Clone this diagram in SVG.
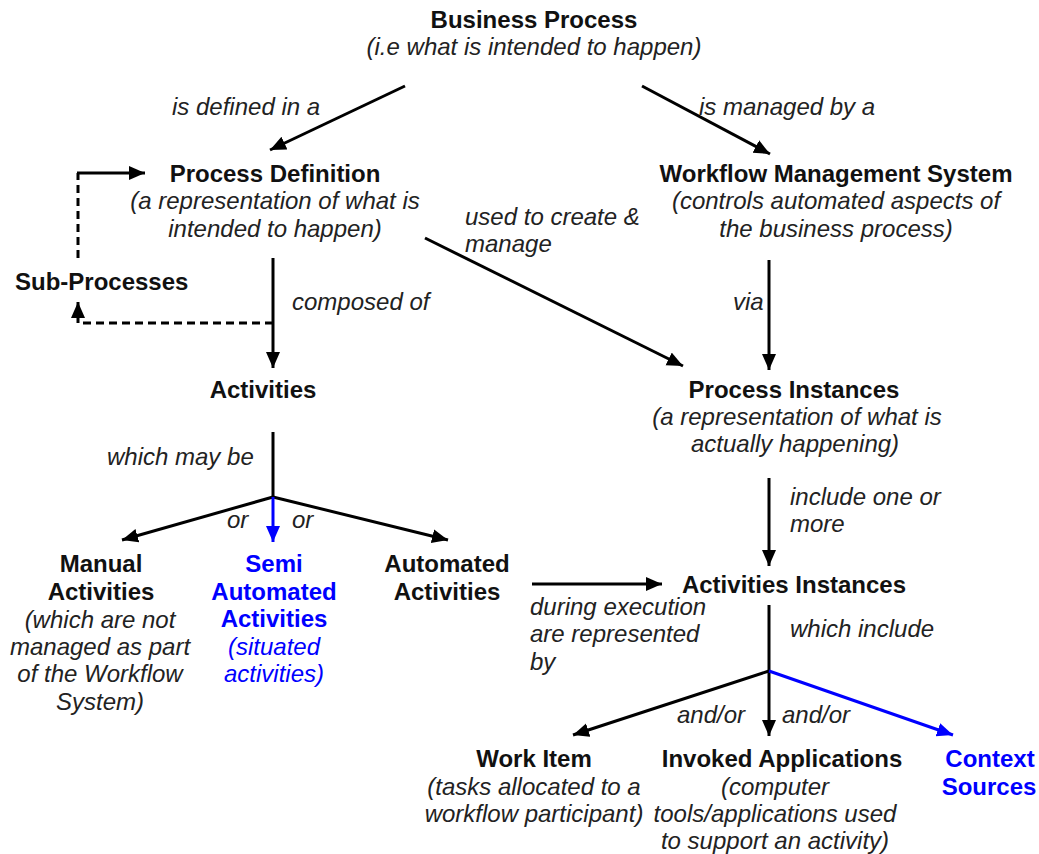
<svg xmlns="http://www.w3.org/2000/svg" width="1039" height="854" viewBox="0 0 1039 854">
<defs>
<style>
text{font-family:"Liberation Sans",Arial,sans-serif;font-size:24px;fill:#111}
.b{font-weight:bold}
.i{font-style:italic;fill:#222}
.c{text-anchor:middle}
.blue{fill:#0000ff}
.ln{stroke:#000;stroke-width:3;fill:none}
.bl{stroke:#0000ff;stroke-width:3;fill:none}
.d{stroke-dasharray:8,5}
</style>
<marker id="ah" markerUnits="userSpaceOnUse" markerWidth="18" markerHeight="16" refX="16" refY="7" orient="auto"><path d="M0,0 L16,7 L0,14 z" fill="#000"/></marker>
<marker id="ahb" markerUnits="userSpaceOnUse" markerWidth="18" markerHeight="16" refX="16" refY="7" orient="auto"><path d="M0,0 L16,7 L0,14 z" fill="#0000ff"/></marker>
</defs>
<rect width="1039" height="854" fill="#fff"/>
<g id="connectors">
<line class="ln" x1="405" y1="86" x2="270" y2="150" marker-end="url(#ah)"/>
<line class="ln" x1="642" y1="86" x2="770" y2="154" marker-end="url(#ah)"/>
<line class="ln" x1="425" y1="238" x2="683" y2="366" marker-end="url(#ah)"/>
<line class="ln" x1="769" y1="260" x2="769" y2="370" marker-end="url(#ah)"/>
<line class="ln" x1="273" y1="258" x2="273" y2="368" marker-end="url(#ah)"/>
<path class="ln d" d="M273,323 H78 V313"/>
<line class="ln" x1="78" y1="316" x2="78" y2="302" marker-end="url(#ah)"/>
<path class="ln d" d="M78,258 V173"/>
<line class="ln" x1="77" y1="173" x2="145" y2="173" marker-end="url(#ah)"/>
<line class="ln" x1="273" y1="432" x2="273" y2="498"/>
<line class="ln" x1="273" y1="497" x2="122" y2="540" marker-end="url(#ah)"/>
<line class="ln" x1="273" y1="497" x2="448" y2="540" marker-end="url(#ah)"/>
<line class="bl" x1="273" y1="497" x2="273" y2="542" marker-end="url(#ahb)"/>
<line class="ln" x1="769" y1="478" x2="769" y2="566" marker-end="url(#ah)"/>
<line class="ln" x1="532" y1="584" x2="662" y2="584" marker-end="url(#ah)"/>
<line class="ln" x1="769" y1="605" x2="769" y2="736" marker-end="url(#ah)"/>
<line class="ln" x1="769" y1="671" x2="573" y2="735" marker-end="url(#ah)"/>
<line class="bl" x1="769" y1="671" x2="953" y2="735" marker-end="url(#ahb)"/>
</g>
<g id="labels">
<text class="i" x="172" y="115">is defined in a</text>
<text class="i" x="699" y="115">is managed by a</text>
<text class="i" x="465" y="225">used to create &amp;</text>
<text class="i" x="465" y="252">manage</text>
<text class="i" x="292" y="310">composed of</text>
<text class="i" x="733" y="310">via</text>
<text class="i" x="107" y="465">which may be</text>
<text class="i" x="227" y="528">or</text>
<text class="i" x="292" y="528">or</text>
<text class="i" x="790" y="505">include one or</text>
<text class="i" x="790" y="532">more</text>
<text class="i" x="530" y="615">during execution</text>
<text class="i" x="530" y="642">are represented</text>
<text class="i" x="530" y="670">by</text>
<text class="i" x="790" y="637">which include</text>
<text class="i" x="677" y="723">and/or</text>
<text class="i" x="782" y="723">and/or</text>
</g>
<g id="business-process">
<text class="b c" x="534" y="28">Business Process</text>
<text class="i c" x="534" y="55">(i.e what is intended to happen)</text>
</g>
<g id="process-definition">
<text class="b c" x="275" y="182">Process Definition</text>
<text class="i c" x="275" y="209">(a representation of what is</text>
<text class="i c" x="275" y="237">intended to happen)</text>
</g>
<g id="wms">
<text class="b c" x="836" y="182">Workflow Management System</text>
<text class="i c" x="836" y="209">(controls automated aspects of</text>
<text class="i c" x="836" y="237">the business process)</text>
</g>
<g id="sub-processes">
<text class="b" x="15" y="290">Sub-Processes</text>
</g>
<g id="activities">
<text class="b c" x="263" y="398">Activities</text>
</g>
<g id="process-instances">
<text class="b c" x="794" y="398">Process Instances</text>
<text class="i c" x="797" y="425">(a representation of what is</text>
<text class="i c" x="795" y="452">actually happening)</text>
</g>
<g id="manual-activities">
<text class="b c" x="101" y="572">Manual</text>
<text class="b c" x="101" y="600">Activities</text>
<text class="i c" x="100" y="628">(which are not</text>
<text class="i c" x="100" y="655">managed as part</text>
<text class="i c" x="100" y="682">of the Workflow</text>
<text class="i c" x="100" y="710">System)</text>
</g>
<g id="semi-automated">
<text class="b c blue" x="274" y="572">Semi</text>
<text class="b c blue" x="274" y="600">Automated</text>
<text class="b c blue" x="274" y="627">Activities</text>
<text class="i c blue" x="274" y="655">(situated</text>
<text class="i c blue" x="274" y="682">activities)</text>
</g>
<g id="automated-activities">
<text class="b c" x="447" y="572">Automated</text>
<text class="b c" x="447" y="600">Activities</text>
</g>
<g id="activities-instances">
<text class="b c" x="794" y="593">Activities Instances</text>
</g>
<g id="work-item">
<text class="b c" x="534" y="767">Work Item</text>
<text class="i c" x="534" y="795">(tasks allocated to a</text>
<text class="i c" x="534" y="822">workflow participant)</text>
</g>
<g id="invoked-applications">
<text class="b c" x="782" y="767">Invoked Applications</text>
<text class="i c" x="775" y="795">(computer</text>
<text class="i c" x="775" y="822">tools/applications used</text>
<text class="i c" x="775" y="849">to support an activity)</text>
</g>
<g id="context-sources">
<text class="b c blue" x="990" y="767">Context</text>
<text class="b c blue" x="989" y="795">Sources</text>
</g>
</svg>
